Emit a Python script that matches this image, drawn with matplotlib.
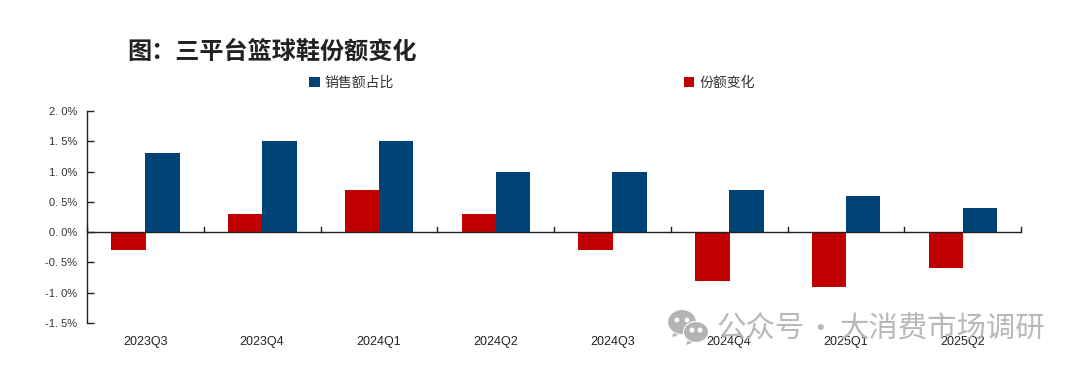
from matplotlib import pyplot as plt
from matplotlib.patches import Ellipse, Polygon
import numpy as np

plt.rcParams['font.family'] = ['Liberation Sans', 'Noto Sans CJK SC', 'DejaVu Sans']

quarters = ["2023Q3", "2023Q4", "2024Q1", "2024Q2", "2024Q3", "2024Q4", "2025Q1", "2025Q2"]
share_change = [-0.3, 0.3, 0.7, 0.3, -0.3, -0.8, -0.9, -0.6]
sales_share = [1.3, 1.5, 1.5, 1.0, 1.0, 0.7, 0.6, 0.4]
y_ticks = [-1.5, -1.0, -0.5, 0.0, 0.5, 1.0, 1.5, 2.0]

W, H = 1080, 369
CJK = ['Noto Sans CJK SC', 'DejaVu Sans']
BLUE = "#004376"
RED = "#c00000"


def fmt_pct(v):
    # the source has a gap after the point, e.g. "2. 0%"
    return f"{v:.1f}%".replace(".", ". ")


def px(xp, yp):
    return xp / W, 1 - yp / H


fig = plt.figure(figsize=(W / 100, H / 100), dpi=100)
ax = fig.add_axes([87 / W, 1 - 323 / H, (1021 - 87) / W, (323 - 111) / H])

x = np.arange(len(quarters))
bar_w = 0.295
ax.bar(x - bar_w / 2 + 0.004, share_change, bar_w, color=RED, label="份额变化", zorder=2)
ax.bar(x + bar_w / 2, sales_share, bar_w, color=BLUE, label="销售额占比", zorder=2)

ax.set_xlim(-0.5, len(quarters) - 0.5)
ax.set_ylim(-1.5, 2.0)

for side in ("top", "right", "bottom"):
    ax.spines[side].set_visible(False)
ax.spines["left"].set_linewidth(1.0)
ax.spines["left"].set_color("#222222")

ax.set_yticks(y_ticks, [fmt_pct(v) for v in y_ticks], fontsize=8, color="#333333")
ax.tick_params(axis="y", direction="in", length=5, width=1.0, color="#222222", pad=7)

# zero line with upward ticks on the category boundaries
ax.axhline(0, color="#222222", lw=1.0, zorder=3)
ax.set_xticks([])
for b in np.arange(len(quarters) + 1) - 0.5:
    ax.plot([b, b], [0, 0.08], color="#222222", lw=1.0, zorder=3, clip_on=False)

for i, q in enumerate(quarters):
    ax.annotate(q, (i, -1.5), xytext=(0, -13.5), textcoords="offset points",
                ha="center", va="center", fontsize=9, color="#222222", annotation_clip=False)

handles, labels = ax.get_legend_handles_labels()
fig.legend(handles[::-1], labels[::-1], ncol=2, frameon=False, loc="center left",
           bbox_to_anchor=(298 / W, 1 - 83 / H), prop={'family': CJK, 'size': 10},
           handlelength=0.75, handleheight=0.75, handletextpad=0.35, columnspacing=20.9,
           labelcolor="#333333", borderpad=0.3)

fig.text(127 / W, 1 - 52 / H, "图：三平台篮球鞋份额变化", family=CJK, fontsize=17.4,
         fontweight="bold", color="#222222", ha="left", va="center")

# watermark, split so the dot sits where the source has it
wm = "#b4b4b4"
for left, piece, ha in [(717, "公众号", "left"), (820, "·", "center"), (840, "大消费市场调研", "left")]:
    fig.text(*px(left, 329), piece, family=CJK, fontsize=21.2,
             color=wm, ha=ha, va="center", zorder=5, alpha=0.95)

# wechat logo: (centre x, centre y, width, height, eye spacing)
bubbles = [(682, 322, 29, 25, 5), (696, 332, 25, 21, 4)]
for cx, cy, w, h, eye in bubbles:
    tail = [px(cx - 7, cy + h * 0.35), px(cx - 9, cy + h * 0.58), px(cx - 1, cy + h * 0.42)]
    fig.add_artist(Polygon(tail, closed=True, color=wm, transform=fig.transFigure, zorder=6))
    fig.add_artist(Ellipse(px(cx, cy), w / W, h / H, fc=wm, ec="white", lw=0.8,
                           transform=fig.transFigure, zorder=6))
    for dx in (-eye, eye):
        fig.add_artist(Ellipse(px(cx + dx, cy - 2), 3.5 / W, 3.5 / H, color="white",
                               transform=fig.transFigure, zorder=7))

fig.savefig("out.png", dpi=100)
